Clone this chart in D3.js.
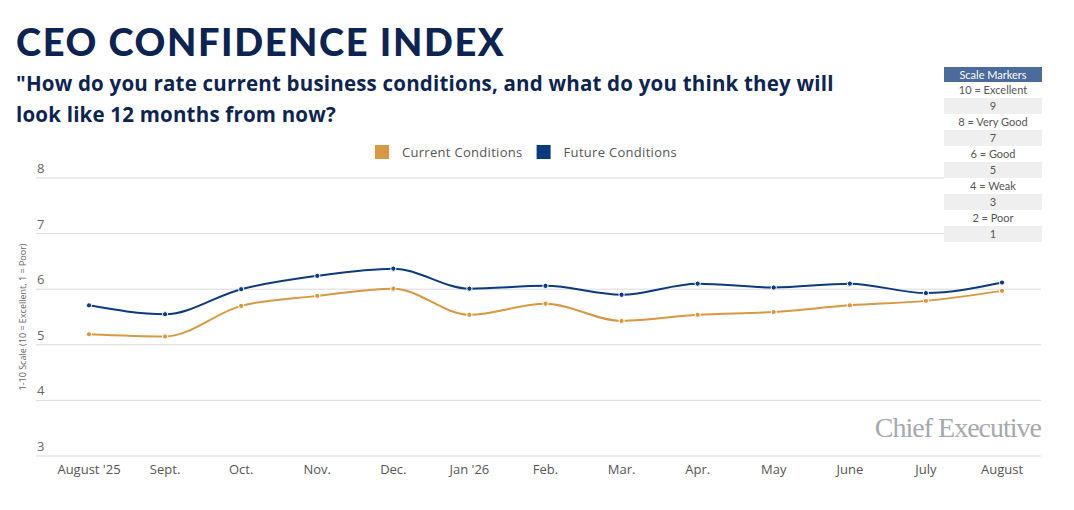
<!DOCTYPE html>
<html><head><meta charset="utf-8">
<script src="https://cdn.jsdelivr.net/npm/d3@7"></script>
<style>
body{margin:0;background:#fff;font-family:"Open Sans",sans-serif;}
</style></head>
<body><svg id="chart" width="1074" height="510"></svg>
<script>
(function() {
    'use strict';
    var months = ["August '25", "Sept.", "Oct.", "Nov.", "Dec.", "Jan '26", "Feb.", "Mar.", "Apr.", "May", "June", "July", "August"];
    var current = [5.19, 5.15, 5.70, 5.88, 6.01, 5.54, 5.74, 5.43, 5.54, 5.59, 5.71, 5.79, 5.97];
    var future = [5.71, 5.55, 6.00, 6.24, 6.37, 6.01, 6.06, 5.90, 6.10, 6.03, 6.10, 5.93, 6.12];
    var series = [
        {name: "Current Conditions", color: "#d9973f", values: current},
        {name: "Future Conditions", color: "#0b3a7e", values: future}
    ];
    var svg = d3.select("#chart");
    var navy = "#0d2453";

    svg.append("text").attr("x", 16).attr("y", 56).attr("fill", navy)
        .style("font-family", "Lato").style("font-weight", 900).style("font-size", "38px")
        .style("letter-spacing", "1.6px").text("CEO CONFIDENCE INDEX");
    svg.append("text").attr("x", 16).attr("y", 91).attr("fill", navy)
        .style("font-weight", 700).style("font-size", "20.5px").style("letter-spacing", "0.2px")
        .text("\"How do you rate current business conditions, and what do you think they will");
    svg.append("text").attr("x", 16).attr("y", 122).attr("fill", navy)
        .style("font-weight", 700).style("font-size", "20.5px").style("letter-spacing", "0.2px")
        .text("look like 12 months from now?");

    var x = d3.scalePoint().domain(months).range([89, 1002]);
    var y = d3.scaleLinear().domain([3, 8]).range([456, 178]);

    y.ticks(5).forEach(function(t) {
        svg.append("line").attr("x1", 36).attr("x2", 1041).attr("y1", y(t)).attr("y2", y(t))
            .attr("stroke", "#d9d9d9").attr("stroke-width", 1);
        svg.append("text").attr("x", 37).attr("y", y(t) - 5).attr("fill", "#666")
            .style("font-size", "13px").text(t);
    });
    svg.append("text").attr("transform", "translate(26,317) rotate(-90)").attr("text-anchor", "middle")
        .attr("fill", "#666").style("font-size", "9px").text("1-10 Scale (10 = Excellent, 1 = Poor)");

    svg.selectAll(".xl").data(months).enter().append("text")
        .attr("x", function(d) { return x(d); }).attr("y", 474).attr("text-anchor", "middle")
        .attr("fill", "#555").style("font-size", "13px").text(function(d) { return d; });

    var line = d3.line().curve(d3.curveMonotoneX)
        .x(function(d, i) { return x(months[i]); }).y(function(d) { return y(d); });
    series.forEach(function(s) {
        svg.append("path").attr("d", line(s.values)).attr("fill", "none")
            .attr("stroke", s.color).attr("stroke-width", 2);
        svg.selectAll(null).data(s.values).enter().append("circle")
            .attr("cx", function(d, i) { return x(months[i]); }).attr("cy", function(d) { return y(d); })
            .attr("r", 2.6).attr("fill", s.color).attr("stroke", "#fff").attr("stroke-width", 1);
    });

    // legend
    var lg = svg.append("g").attr("transform", "translate(375,145)");
    var lx = 0;
    series.forEach(function(s) {
        lg.append("rect").attr("x", lx).attr("y", 0).attr("width", 14).attr("height", 14).attr("fill", s.color);
        var t = lg.append("text").attr("x", lx + 27).attr("y", 12).attr("fill", "#555")
            .style("font-size", "13px").style("letter-spacing", "0.3px").text(s.name);
        lx += 27 + t.node().getComputedTextLength() + 14;
    });

    // scale markers table
    var rows = ["10 = Excellent", "9", "8 = Very Good", "7", "6 = Good", "5", "4 = Weak", "3", "2 = Poor", "1"];
    var tb = svg.append("g").attr("transform", "translate(944,67)");
    tb.append("rect").attr("width", 98).attr("height", 15).attr("fill", "#4a6b9c");
    tb.append("text").attr("x", 49).attr("y", 11.5).attr("text-anchor", "middle").attr("fill", "#fff")
        .style("font-family", "Lato").style("font-size", "11px").text("Scale Markers");
    rows.forEach(function(r, i) {
        var ry = 15 + i * 16;
        tb.append("rect").attr("y", ry).attr("width", 98).attr("height", 16)
            .attr("fill", i % 2 ? "#efefef" : "#fff");
        tb.append("text").attr("x", 49).attr("y", ry + 12).attr("text-anchor", "middle").attr("fill", "#555")
            .style("font-family", "Lato").style("font-size", "11px").text(r);
    });

    svg.append("text").attr("x", 1041).attr("y", 437).attr("text-anchor", "end").attr("fill", "#a5a9ae")
        .style("font-family", "Liberation Serif").style("font-size", "28px").style("letter-spacing", "-1px")
        .text("Chief Executive");
})();
</script></body></html>
